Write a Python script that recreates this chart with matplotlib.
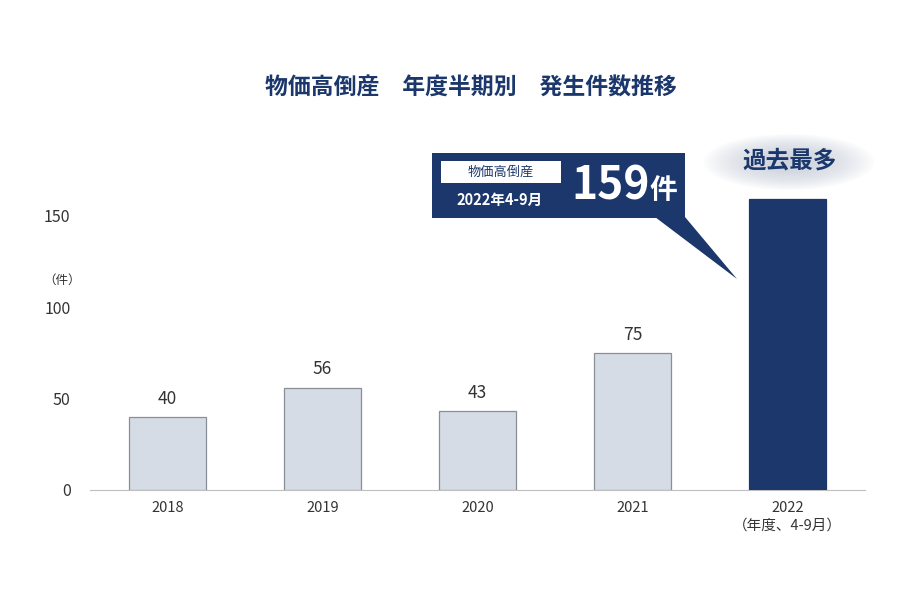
import numpy as np
import matplotlib
matplotlib.use("Agg")
import matplotlib.pyplot as plt
from matplotlib.patches import Rectangle, Polygon, Ellipse

plt.rcParams['font.family'] = ['Noto Sans CJK JP', 'DejaVu Sans']

# data
years = ['2018', '2019', '2020', '2021', '2022\n（年度、4-9月）']
counts = [40, 56, 43, 75, 159]
yticks = [0, 50, 100, 150]
title = '物価高倒産　年度半期別　発生件数推移'

NAVY = '#1b376b'
LIGHT = '#d6dce5'
W, H = 900, 600

fig = plt.figure(figsize=(9, 6), dpi=100)
fig.patch.set_facecolor('white')

def px(x, y):
    # figure pixel (from top-left) -> figure fraction
    return (x / W, 1 - y / H)

ax = fig.add_axes([90 / W, 110 / H, 775 / W, 311 / H])
colors = [LIGHT] * 4 + [NAVY]
edges = ['#8a8f96'] * 4 + [NAVY]
x = np.arange(len(counts))
ax.bar(x, counts, width=0.5, color=colors, edgecolor=edges, linewidth=0.9, zorder=3)
for i, v in enumerate(counts[:-1]):
    ax.text(i, v + 5, str(v), ha='center', va='bottom', fontsize=12.5, color='#333333')

ax.set_xlim(-0.5, 4.5)
ax.set_ylim(0, 170)
ax.set_xticks(x)
ax.set_xticklabels(years, fontsize=10.5, color='#333333', linespacing=1.3)
ax.set_yticks(yticks)
ax.set_yticklabels([str(t) for t in yticks], fontsize=11.5, color='#333333')
for s in ['top', 'right', 'left']:
    ax.spines[s].set_visible(False)
ax.spines['bottom'].set_color('#bfbfbf')
ax.tick_params(axis='both', length=0)
ax.tick_params(axis='y', pad=14)
ax.tick_params(axis='x', pad=8)

fig.text(*px(62, 280), '（件）', fontsize=9, color='#333333', ha='center', va='center')

# title
fig.text(*px(471, 88), title, fontsize=16.5, fontweight='bold', color=NAVY,
         ha='center', va='center')

# callout box
x0, y0 = px(432, 218)
x1, y1 = px(685, 153)
fig.patches.append(Rectangle((x0, y0), x1 - x0, y1 - y0, transform=fig.transFigure,
                             facecolor=NAVY, edgecolor='none'))
fig.patches.append(Polygon([px(655, 217), px(685, 217), px(737, 279)], closed=True,
                           transform=fig.transFigure, facecolor=NAVY, edgecolor='none'))
bx0, by0 = px(441, 183)
bx1, by1 = px(561, 161)
fig.patches.append(Rectangle((bx0, by0), bx1 - bx0, by1 - by0, transform=fig.transFigure,
                             facecolor='white', edgecolor='none'))
fig.text(*px(501, 172), '物価高倒産', fontsize=9.5, color=NAVY, ha='center', va='center')
fig.text(*px(500, 200), '2022年4-9月', fontsize=10.5, color='white', fontweight='bold',
         ha='center', va='center')
fig.text(*px(650, 187), '159', fontsize=32, color='white', fontweight='bold',
         ha='right', va='center')
fig.text(*px(650, 191), '件', fontsize=20, color='white', fontweight='bold',
         ha='left', va='center')

# glow behind 過去最多
n = 24
for k in range(n):
    f = 1 - k / n
    fig.patches.append(Ellipse(px(789, 162), 170 / W * f, 56 / H * f,
                               transform=fig.transFigure, facecolor='#c3cad8',
                               edgecolor='none', alpha=0.06))
fig.text(*px(790, 161), '過去最多', fontsize=17, fontweight='bold', color=NAVY,
         ha='center', va='center')

fig.savefig('out.png', dpi=100, facecolor='white')
